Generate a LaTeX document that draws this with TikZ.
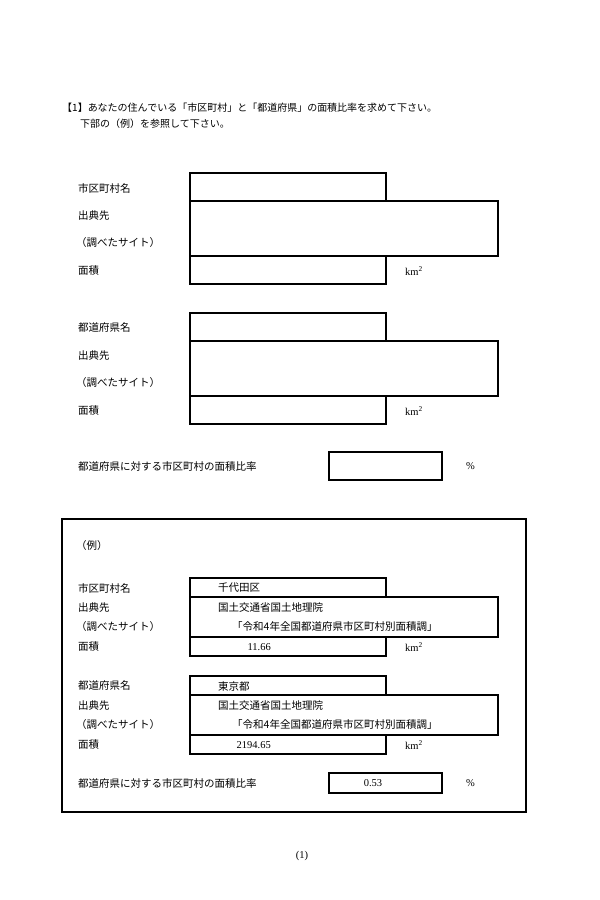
\documentclass[tikz,border=0pt]{standalone}
\usepackage{fontspec}
\setmainfont{Noto Sans CJK JP}
\newfontfamily\latin{Liberation Serif}
\begin{document}
\begin{tikzpicture}[x=1pt, y=-1pt, font=\fontsize{10.5}{12}\selectfont,
	lab/.style={anchor=west, inner sep=0pt},
	box/.style={line width=1.4pt}]
	\useasboundingbox (0,0) rectangle (600,900);
	% question
	\node[lab, font=\fontsize{10}{12}\selectfont] (q) at (62,108) {【1】あなたの住んでいる「市区町村」と「都道府県」の面積比率を求めて下さい。};
	\node[lab, font=\fontsize{10}{12}\selectfont] (qb) at (80,124) {下部の（例）を参照して下さい。};
	% answer forms
	\foreach \t/\nm/\id in {173/市区町村名/city, 313/都道府県名/pref}{
		\draw[box] (190,\t) rectangle (386,\t+28);
		\draw[box] (190,\t+28) rectangle (498,\t+83);
		\draw[box] (190,\t+83) rectangle (386,\t+111);
		\node[lab] (\id-name) at (78,\t+15) {\nm};
		\node[lab] (\id-src) at (78,\t+43) {出典先};
		\node[lab] (\id-site) at (76,\t+70) {（調べたサイト）};
		\node[lab] (\id-area) at (78,\t+98) {面積};
		\node[lab] (\id-unit) at (405,\t+98) {\latin km\textsuperscript{2}};
	}
	\node[lab] (ratio) at (78,466) {都道府県に対する市区町村の面積比率};
	\draw[box] (329,452) rectangle (442,480);
	\node[lab] (pct) at (466,466) {\latin \%};
	% example
	\draw[line width=1.3pt] (62,519) rectangle (526,812);
	\node[lab] (ex) at (76,546) {（例）};
	\foreach \t/\nm/\val/\area/\id in {578/市区町村名/千代田区/11.66/excity, 676/都道府県名/東京都/2194.65/expref}{
		\draw[box] (190,\t) rectangle (386,\t+19);
		\draw[box] (190,\t+19) rectangle (498,\t+59);
		\draw[box] (190,\t+59) rectangle (386,\t+78);
		\node[lab] (\id-name) at (78,\t+10) {\nm};
		\node[lab] (\id-src) at (78,\t+30) {出典先};
		\node[lab] (\id-site) at (76,\t+49) {（調べたサイト）};
		\node[lab] (\id-area) at (78,\t+69) {面積};
		\node[lab] (\id-val) at (218,\t+10) {\val};
		\node[lab] (\id-org) at (218,\t+30) {国土交通省国土地理院};
		\node[lab] (\id-doc) at (232,\t+49) {「令和4年全国都道府県市区町村別面積調」};
		\node[anchor=east, inner sep=0pt] (\id-num) at (271,\t+69) {\latin \area};
		\node[lab] (\id-unit) at (405,\t+69) {\latin km\textsuperscript{2}};
	}
	\node[lab] (exratio) at (78,783) {都道府県に対する市区町村の面積比率};
	\draw[box] (329,773) rectangle (442,793);
	\node[inner sep=0pt] (exval) at (373,783) {\latin 0.53};
	\node[lab] (expct) at (466,783) {\latin \%};
	% page number
	\node[inner sep=0pt] (page) at (302,856) {\latin (1)};
\end{tikzpicture}
\end{document}
